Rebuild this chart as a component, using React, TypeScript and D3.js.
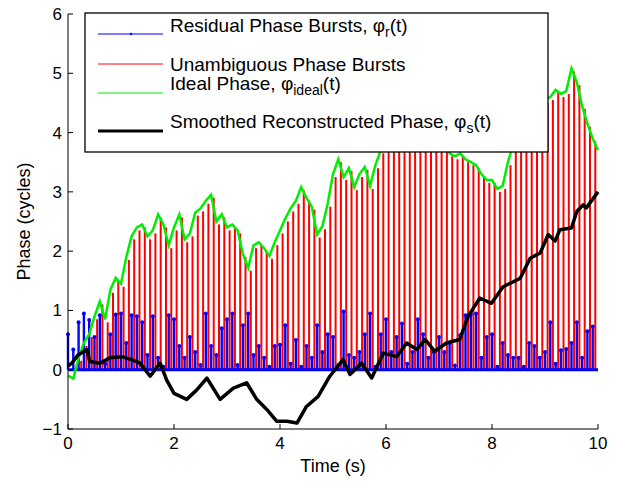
import React from "react";
import * as d3 from "d3";

// ideal / unambiguous phase sampled every 0.1 s (cycles)
const idealPhase = [
  -0.1, -0.15, 0.2, 0.45, 0.6, 0.9, 1.15, 0.85, 1.35, 1.55,
  1.45, 1.9, 2.25, 2.4, 2.45, 2.25, 2.35, 2.62, 2.45, 2.1,
  2.4, 2.62, 2.2, 2.3, 2.65, 2.72, 2.85, 2.95, 2.5, 2.62,
  2.4, 2.45, 2.35, 1.95, 1.72, 2.1, 2.15, 2.05, 1.92, 2.15,
  2.35, 2.55, 2.72, 2.85, 3.08, 2.9, 2.75, 2.28, 2.42, 2.8,
  3.3, 3.55, 3.25, 3.4, 3.08, 3.3, 3.42, 3.1, 3.45, 3.7,
  3.85, 3.95, 4.05, 3.9, 4.1, 4.2, 4.0, 4.15, 4.3, 4.1,
  3.95, 3.8, 3.65, 3.6, 3.65, 3.55, 3.5, 3.45, 3.3, 3.2,
  3.2, 3.05, 3.1, 3.5, 3.8, 4.0, 4.2, 4.35, 4.3, 4.5,
  4.55, 4.6, 4.72, 4.65, 4.7, 5.08, 4.85, 4.45, 4.15, 3.9, 3.7,
];

// residual (wrapped) phase bursts, every 0.1 s
const residual = [
  0.6, 0.34, 0.8, 0.95, 0.84, 0.55, 0.92, 0.1, 0.6, 0.93,
  0.95, 0.45, 0.92, 0.9, 0.8, 0.25, 0.9, 0.2, 0.05, 0.92,
  0.85, 0.4, 0.2, 0.55, 0.3, 0.08, 0.95, 0.4, 0.25, 0.7,
  0.85, 0.95, 0.08, 0.75, 0.95, 0.25, 0.4, 0.2, 0.05, 0.4,
  0.42, 0.75, 0.1, 0.5, 0.05, 0.4, 0.2, 0.75, 0.3, 0.6,
  0.55, 0.08, 0.98, 0.25, 0.2, 0.3, 0.6, 0.95, 0.05, 0.6,
  0.85, 0.3, 0.55, 0.78, 0.1, 0.3, 0.85, 0.6, 0.2, 0.3,
  0.55, 0.3, 0.45, 0.07, 0.58, 0.92, 0.93, 0.95, 0.2, 0.55,
  0.6, 0.05, 0.45, 0.25, 0.2, 0.2, 0.05, 0.45, 0.4, 0.2,
  0.3, 0.8, 0.1, 0.33, 0.35, 0.45, 0.8, 0.2, 0.65, 0.73,
];

const smoothT = [
  0, 0.07, 0.19, 0.36, 0.41, 0.6, 0.79, 1.01, 1.2, 1.36, 1.55, 1.74, 1.86, 2.0,
  2.24, 2.43, 2.62, 2.87, 3.12, 3.37, 3.56, 3.75, 3.94, 4.13, 4.32, 4.5, 4.72,
  4.94, 5.19, 5.32, 5.54, 5.73, 5.95, 6.2, 6.39, 6.58, 6.74, 6.92, 7.14, 7.39,
  7.55, 7.77, 7.99, 8.21, 8.53, 8.72, 8.91, 9.06, 9.19, 9.28, 9.5, 9.6, 9.72,
  9.78, 10,
];
const smoothV = [
  0.06, 0.11, 0.25, 0.34, 0.14, 0.11, 0.2, 0.22, 0.17, 0.11, -0.11, 0.11, -0.17,
  -0.4, -0.5, -0.34, -0.14, -0.5, -0.31, -0.22, -0.5, -0.67, -0.87, -0.87, -0.9,
  -0.62, -0.45, -0.11, 0.17, -0.08, 0.11, -0.14, 0.28, 0.22, 0.45, 0.34, 0.51,
  0.31, 0.45, 0.51, 0.9, 1.21, 1.12, 1.4, 1.54, 1.88, 1.97, 2.28, 2.17, 2.36,
  2.39, 2.67, 2.78, 2.73, 3.0,
];

const xTicks = [0, 2, 4, 6, 8, 10];
const yTicks = [-1, 0, 1, 2, 3, 4, 5, 6];

const font = "Helvetica, 'Liberation Sans', Arial, sans-serif";

export default function App() {
  const W = 624, H = 481;
  const x = d3.scaleLinear().domain([0, 10]).range([68, 598]);
  const y = d3.scaleLinear().domain([-1, 6]).range([429, 14]);
  const tOf = (i: number) => i * 0.1;

  const idealLine = d3.line<number>().x((_, i) => x(tOf(i))).y((d) => y(d))(idealPhase) || "";
  const smoothLine =
    d3.line<number>().x((_, i) => x(smoothT[i])).y((d) => y(d))(smoothV) || "";

  const sub = (base: string, s: string, rest: string) => (
    <>
      {base}
      <tspan dy={5} fontSize={14}>{s}</tspan>
      <tspan dy={-5}>{rest}</tspan>
    </>
  );

  return (
    <svg width={W} height={H} style={{ position: "absolute", left: 0, top: 0 }} fontFamily={font}>
      <rect width={W} height={H} fill="white" />
      {/* red stems */}
      {idealPhase.slice(0, 100).map((v, i) => (
        <line key={"r" + i} x1={x(tOf(i)) + 2.6} x2={x(tOf(i)) + 2.6} y1={y(0)} y2={y(Math.max(0, v - 0.05))}
          stroke="#ff0000" strokeWidth={2} />
      ))}
      {/* blue stems */}
      {residual.map((v, i) => (
        <g key={"b" + i}>
          <line x1={x(tOf(i))} x2={x(tOf(i))} y1={y(0)} y2={y(v)} stroke="#0000ff" strokeWidth={2.4} />
          <circle cx={x(tOf(i))} cy={y(v)} r={2} fill="#0000ff" />
        </g>
      ))}
      <line x1={x(0)} x2={x(10)} y1={y(0)} y2={y(0)} stroke="#0000ff" strokeWidth={3} />
      <path d={idealLine} fill="none" stroke="#00ee00" strokeWidth={2.5} />
      <path d={smoothLine} fill="none" stroke="#000" strokeWidth={3.5} strokeLinejoin="round" />

      {/* axes */}
      <line x1={68} x2={68} y1={14} y2={429} stroke="#000" />
      <line x1={68} x2={598} y1={429} y2={429} stroke="#000" />
      {xTicks.map((t) => (
        <g key={"x" + t}>
          <line x1={x(t)} x2={x(t)} y1={429} y2={424} stroke="#000" />
          <text x={x(t)} y={449} fontSize={17} textAnchor="middle">{t}</text>
        </g>
      ))}
      {yTicks.map((t) => (
        <g key={"y" + t}>
          <line x1={68} x2={73} y1={y(t)} y2={y(t)} stroke="#000" />
          <text x={62} y={y(t) + 6} fontSize={17} textAnchor="end">{t < 0 ? "\u2212" + Math.abs(t) : t}</text>
        </g>
      ))}
      <text x={333} y={472} fontSize={18} textAnchor="middle">Time (s)</text>
      <text transform={`translate(30,${y(2.5)}) rotate(-90)`} fontSize={18} textAnchor="middle">Phase (cycles)</text>

      {/* legend */}
      <rect x={85} y={13} width={463} height={139} fill="white" stroke="#000" strokeWidth={1.3} />
      <line x1={98} x2={163} y1={34} y2={34} stroke="#0000ff" />
      <circle cx={131} cy={34} r={1.2} fill="#0000ff" />
      <line x1={98} x2={163} y1={64} y2={64} stroke="#ff0000" />
      <line x1={98} x2={163} y1={93} y2={93} stroke="#00ee00" />
      <line x1={98} x2={163} y1={131} y2={131} stroke="#000" strokeWidth={3} />
      <text x={170} y={32} fontSize={19}>{sub("Residual Phase Bursts, \u03c6", "r", "(t)")}</text>
      <text x={170} y={71} fontSize={19}>Unambiguous Phase Bursts</text>
      <text x={170} y={90} fontSize={19}>{sub("Ideal Phase, \u03c6", "ideal", "(t)")}</text>
      <text x={170} y={128} fontSize={19}>{sub("Smoothed Reconstructed Phase, \u03c6", "s", "(t)")}</text>
    </svg>
  );
}
